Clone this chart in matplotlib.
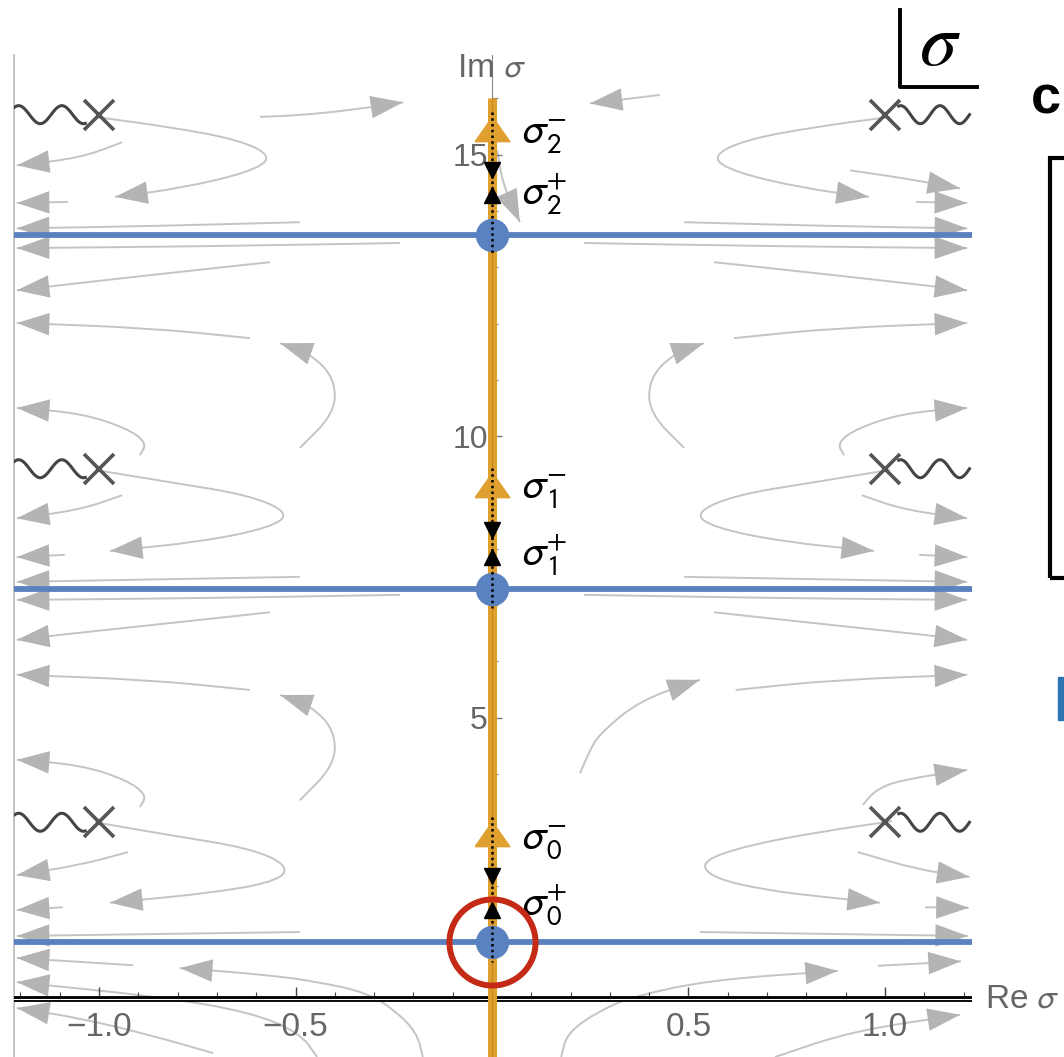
import numpy as np
import matplotlib.pyplot as plt
from matplotlib.patches import Rectangle, PathPatch
from matplotlib.path import Path

plt.rcParams['font.family'] = ['Liberation Sans', 'DejaVu Sans']
plt.rcParams['mathtext.fontset'] = 'stixsans'

# special points on the imaginary axis (values of Im sigma)
saddle_im = [1.01, 7.29, 13.57]        # blue dots / blue lines
minus_im = [2.93, 9.14, 15.45]         # sigma_n^- (orange triangles)
down_tip_im = [2.06, 8.20, 14.60]      # black arrow pointing down
up_tip_im = [1.72, 7.98, 14.42]        # black arrow pointing up
branch_re = [-1.0, 1.0]
branch_im = [3.14, 9.42, 15.71]        # branch points (X)
minus_labels = [r'$\sigma_0^{-}$', r'$\sigma_1^{-}$', r'$\sigma_2^{-}$']
plus_labels = [r'$\sigma_0^{+}$', r'$\sigma_1^{+}$', r'$\sigma_2^{+}$']
xtick_vals = [-1.0, -0.5, 0.5, 1.0]
ytick_vals = [5, 10, 15]

# gray flow lines (Re list, Im list); arrow at the end
streams = [
    # below the real axis and around the lowest blue line
    ([-0.176, -0.191, -0.247, -0.318, -0.438, -0.573, -0.794], [-1.03, -0.60, -0.20, 0.11, 0.30, 0.43, 0.55]),
    ([-0.445, -0.489, -0.616, -0.845, -1.209], [-1.03, -0.60, -0.23, 0.04, 0.30]),
    ([-0.710, -0.870, -1.048, -1.209], [-0.96, -0.64, -0.34, -0.16]),
    ([-0.913, -1.209], [0.60, 0.73]),
    ([-0.489, -1.209], [1.19, 1.12]),
    ([0.176, 0.191, 0.275, 0.361, 0.557, 0.880], [-1.03, -0.60, -0.20, 0.05, 0.34, 0.50]),
    ([0.720, 0.916, 1.191], [-1.03, -0.57, -0.28]),
    ([0.982, 1.193], [0.59, 0.67]),
    ([0.529, 1.211], [1.19, 1.12]),
    # around the lowest branch points
    ([-1.010, -0.819, -0.616, -0.520, -0.539, -0.692, -0.972], [3.14, 2.91, 2.68, 2.38, 2.11, 1.90, 1.71]),
    ([-0.926, -1.048, -1.209], [2.61, 2.38, 2.20]),
    ([-1.092, -1.209], [1.63, 1.58]),
    ([1.018, 0.835, 0.656, 0.530, 0.560, 0.700, 0.835, 0.987], [3.16, 2.97, 2.74, 2.45, 2.15, 1.93, 1.82, 1.71]),
    ([0.931, 1.089, 1.215], [2.61, 2.29, 2.17]),
    ([1.102, 1.213], [1.63, 1.62]),
    # between the lowest branch points and the middle blue line
    ([-0.896, -0.878, -0.929, -1.048, -1.209], [3.41, 3.62, 3.89, 4.16, 4.25]),
    ([-0.489, -0.400, -0.400, -0.463, -0.539], [3.53, 4.16, 4.78, 5.22, 5.40]),
    ([-0.616, -0.870, -1.209], [5.49, 5.67, 5.76]),
    ([-0.565, -0.870, -1.099, -1.209], [6.87, 6.64, 6.47, 6.38]),
    ([-0.234, -0.743, -1.209], [7.18, 7.12, 7.09]),
    ([0.944, 0.975, 1.038, 1.209], [3.45, 3.71, 3.89, 4.07]),
    ([0.224, 0.249, 0.275, 0.377, 0.529], [4.01, 4.42, 4.72, 5.31, 5.67]),
    ([0.620, 0.870, 1.209], [5.49, 5.67, 5.76]),
    ([0.565, 0.870, 1.099, 1.209], [6.87, 6.64, 6.47, 6.38]),
    ([0.234, 0.743, 1.209], [7.18, 7.12, 7.09]),
    # around the middle branch points
    ([-1.010, -0.819, -0.616, -0.514, -0.565, -0.743, -0.972], [9.40, 9.18, 8.95, 8.63, 8.37, 8.12, 7.96]),
    ([-0.941, -1.048, -1.209], [8.95, 8.69, 8.54]),
    ([-1.087, -1.209], [7.89, 7.85]),
    ([-0.489, -1.209], [7.50, 7.41]),
    ([1.013, 0.819, 0.616, 0.514, 0.565, 0.743, 0.972], [9.40, 9.18, 8.95, 8.63, 8.37, 8.12, 7.96]),
    ([0.941, 1.048, 1.209], [8.95, 8.69, 8.54]),
    ([1.087, 1.209], [7.89, 7.85]),
    ([0.489, 1.209], [7.50, 7.41]),
    # between the middle branch points and the top blue line
    ([-0.896, -0.878, -0.929, -1.048, -1.209], [9.66, 9.88, 10.14, 10.41, 10.50]),
    ([-0.489, -0.400, -0.400, -0.463, -0.539], [9.79, 10.41, 11.03, 11.47, 11.65]),
    ([-0.616, -0.870, -1.209], [11.74, 11.92, 12.01]),
    ([-0.565, -0.870, -1.099, -1.209], [13.09, 12.86, 12.68, 12.59]),
    ([-0.234, -0.743, -1.209], [13.43, 13.37, 13.34]),
    ([0.896, 0.878, 0.929, 1.048, 1.209], [9.66, 9.88, 10.14, 10.41, 10.50]),
    ([0.489, 0.400, 0.400, 0.463, 0.539], [9.79, 10.41, 11.03, 11.47, 11.65]),
    ([0.616, 0.870, 1.209], [11.74, 11.92, 12.01]),
    ([0.565, 0.870, 1.099, 1.209], [13.09, 12.86, 12.68, 12.59]),
    ([0.234, 0.743, 1.209], [13.43, 13.37, 13.34]),
    # around the top branch points
    ([-1.010, -0.819, -0.641, -0.557, -0.616, -0.794, -0.959], [15.67, 15.49, 15.26, 14.96, 14.69, 14.40, 14.25]),
    ([-0.941, -1.048, -1.209], [15.22, 14.94, 14.81]),
    ([-1.079, -1.209], [14.16, 14.14]),
    ([-0.489, -0.870, -1.209], [13.80, 13.73, 13.69]),
    ([-0.590, -0.489, -0.361, -0.226], [15.67, 15.70, 15.79, 15.93]),
    ([1.013, 0.819, 0.641, 0.557, 0.616, 0.794, 0.959], [15.67, 15.49, 15.26, 14.96, 14.69, 14.40, 14.25]),
    ([0.911, 1.050, 1.191], [14.72, 14.58, 14.40]),
    ([1.079, 1.209], [14.16, 14.14]),
    ([0.489, 0.870, 1.209], [13.80, 13.73, 13.69]),
    ([0.427, 0.249], [16.06, 15.91]),
    ([0.013, 0.028, 0.071], [15.08, 14.46, 13.80]),
]

BLUE = '#5b82c0'
ORANGE = '#e0a030'
GRAY_TXT = '#666666'


def smooth_path(re, im):
    # rounded polyline through the read points (quadratic corners)
    pts = np.column_stack([re, im])
    if len(pts) < 3:
        return Path(pts)
    verts = [pts[0], (pts[0] + pts[1]) / 2]
    codes = [Path.MOVETO, Path.LINETO]
    for i in range(1, len(pts) - 1):
        verts += [pts[i], (pts[i] + pts[i + 1]) / 2]
        codes += [Path.CURVE3, Path.CURVE3]
    verts.append(pts[-1])
    codes.append(Path.LINETO)
    return Path(verts, codes)


fig = plt.figure(figsize=(10.64, 10.57), dpi=100)
ax = fig.add_axes([14 / 1064, 0, 958 / 1064, 1002 / 1057])
ax.set_xlim(-1.2163, 1.2214)
ax.set_ylim(-1.03, 16.77)

for s in ['top', 'right']:
    ax.spines[s].set_visible(False)
ax.spines['left'].set_position(('data', 0))
ax.spines['left'].set_color('#888888')
ax.spines['bottom'].set_position(('data', 0))
ax.spines['bottom'].set_visible(False)

ax.set_xticks(xtick_vals)
ax.set_xticklabels(['\u22121.0', '\u22120.5', '0.5', '1.0'])
ax.set_xticks(np.arange(-12, 13) / 10, minor=True)
ax.set_yticks(ytick_vals)
ax.set_yticks(range(1, 17), minor=True)
ax.tick_params(axis='x', which='major', direction='in', length=9, width=1, color='#444444',
               labelsize=24, labelcolor=GRAY_TXT, pad=9)
ax.tick_params(axis='x', which='minor', direction='in', length=5, width=0.8, color='#444444')
ax.tick_params(axis='y', which='major', direction='in', length=7, width=1, color='#777777',
               labelsize=23, labelcolor=GRAY_TXT, pad=3)
ax.tick_params(axis='y', which='minor', direction='in', length=4, width=0.8, color='#777777')

# left frame line
ax.plot([0, 0], [0, 1], transform=ax.transAxes, color='#bbbbbb', lw=1.2, clip_on=False)

# flow lines
for re, im in streams:
    ax.add_patch(PathPatch(smooth_path(re, im), fc='none', ec='#c4c4c4', lw=1.4, zorder=1))
    ax.annotate('', xy=(re[-1], im[-1]), xytext=(re[-2], im[-2]),
                arrowprops=dict(arrowstyle='-|>,head_length=1.3,head_width=0.45',
                                color='#b4b4b4', lw=0, shrinkA=0, shrinkB=0, mutation_scale=18),
                zorder=2)

# real axis as double line
ax.axhline(0, color='black', lw=4.2, zorder=3)
ax.axhline(0, color='white', lw=0.8, zorder=3)

# blue lines
for y in saddle_im:
    ax.axhline(y, color=BLUE, lw=4.2, zorder=4)

# orange vertical line
ax.plot([0, 0], [-1.03, 16.0], color=ORANGE, lw=6.5, zorder=5, solid_capstyle='butt')
ax.plot([0, 0], [-1.03, 16.0], color='#c98a1c', lw=0.8, zorder=5)

# branch points and wavy cuts going outward
for r in branch_re:
    for y in branch_im:
        ax.plot(r, y, marker='x', ms=22, mew=2.6, color='#555555', zorder=6)
        d = np.linspace(0.035, 0.215, 80)
        if r < 0:
            wx = r - d
            wy = y - 0.16 * np.sin(np.pi * (d - 0.012) / 0.055)
        else:
            wx = r + d
            wy = y + 0.16 * np.sin(np.pi * (d - 0.015) / 0.05)
        ax.plot(wx, wy, color='#444444', lw=2.2, zorder=6)

# orange triangles, dotted segments and black arrows
tri = [(-1, -0.7), (1, -0.7), (0, 0.73), (-1, -0.7)]
for k in range(3):
    ax.plot(0, minus_im[k], marker=tri, ms=25, color=ORANGE, zorder=7)
    ax.plot([0, 0], [minus_im[k] + 0.3, saddle_im[k] - 0.35], color='black', lw=1.8,
            ls=(0, (1, 1.3)), zorder=9)
    ax.plot(0, down_tip_im[k] + 0.13, marker='v', ms=11, color='black', zorder=9)
    ax.plot(0, up_tip_im[k] - 0.13, marker='^', ms=11, color='black', zorder=9)
    ax.plot(0, saddle_im[k], marker='o', ms=23, color=BLUE, zorder=8)
    ax.text(0.075, minus_im[k] - 0.12, minus_labels[k], fontsize=30, va='center', ha='left', zorder=10)
    ax.text(0.075, (down_tip_im[k] + up_tip_im[k]) / 2 - 0.2, plus_labels[k], fontsize=30,
            va='center', ha='left', zorder=10)

# red circle around the lowest saddle
ax.plot(0, saddle_im[0], marker='o', ms=62, mfc='none', mec='#c42a16', mew=4.3, zorder=11)

ax.text(0, 16.54, r'Im $\sigma$', fontsize=24, color=GRAY_TXT, ha='center', va='center')
ax.text(1.255, 0.0, r'Re $\sigma$', fontsize=24, color=GRAY_TXT, ha='left', va='center',
        clip_on=False)

# slide decorations around the plot
fig.text(940 / 1064, 1 - 45 / 1057, r'$\sigma$', fontsize=54, ha='center', va='center',
         math_fontfamily='stix')
fig.add_artist(plt.Line2D([900 / 1064, 900 / 1064, 977 / 1064],
                          [1 - 10 / 1057, 1 - 87 / 1057, 1 - 87 / 1057], color='black', lw=2.8))
fig.text(1031 / 1064, 1 - 100 / 1057, 'c', fontsize=39, ha='left', va='center', fontweight='bold')
fig.add_artist(Rectangle((1050 / 1064, 1 - 578 / 1057), 0.1, 420 / 1057, fill=False,
                         lw=3, ec='black'))
fig.add_artist(Rectangle((1058 / 1064, 1 - 720 / 1057), 0.1, 43 / 1057, color='#2e74b5'))

fig.savefig('out.png', dpi=100)
